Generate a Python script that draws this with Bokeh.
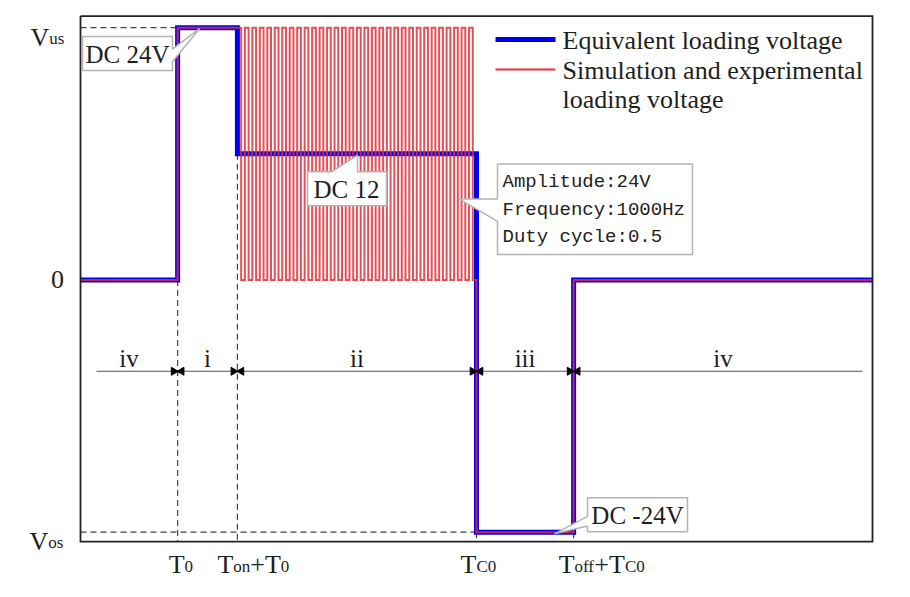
import math
from bokeh.plotting import figure
from bokeh.models import Label, Range1d
from bokeh.embed import file_html
from bokeh.resources import INLINE

# ---------------- data ----------------
t_start, t_end = 0.0, 106.0          # time axis (ms)
T0 = 13.0
Ton_T0 = 21.0
TC0 = 53.0
Toff_TC0 = 66.0
V_us = 24.0
V_dc12 = 12.0
V_os = -24.0
pwm_amplitude = 24.0
pwm_period = 1.0      # 1000 Hz -> 1 ms
pwm_duty = 0.5
pwm_cycles = 32

equiv_t = [t_start, T0, T0, Ton_T0, Ton_T0, TC0, TC0, Toff_TC0, Toff_TC0, t_end]
equiv_v = [0, 0, V_us, V_us, V_dc12, V_dc12, V_os, V_os, 0, 0]

x_tick_pos = [T0, Ton_T0, TC0, Toff_TC0]
region_names = ["iv", "i", "ii", "iii", "iv"]
region_bounds = [t_start, T0, Ton_T0, TC0, Toff_TC0, t_end]

# simulated (PWM) loading voltage
sim_t = [t_start, T0, T0, Ton_T0]
sim_v = [0, 0, V_us, V_us]
for k in range(pwm_cycles):
    th = Ton_T0 + k * pwm_period + pwm_duty * pwm_period
    sim_t += [th, th]
    sim_v += [pwm_amplitude, 0]
    tl = Ton_T0 + (k + 1) * pwm_period
    if k < pwm_cycles - 1:
        sim_t += [tl, tl]
        sim_v += [0, pwm_amplitude]
    else:
        sim_t += [tl]
        sim_v += [0]
sim_t += [TC0, Toff_TC0, Toff_TC0, t_end]
sim_v += [V_os, V_os, 0, 0]

# ---------------- geometry ----------------
W, H = 894, 581            # fits the 910x597 window with 8px page margin
REF_H = 597.0              # layout below is expressed in a 597px-tall design space
FX0, FX1 = 80.0, 872.0     # visible box
FY0, FY1 = 16.0, 556.0
v_box_lo, v_box_hi = -24.9, 25.1
sx = (FX1 - FX0) / (t_end - t_start)
sy = (FY1 - FY0) / (v_box_hi - v_box_lo)

def px2x(px):
    return t_start + (px - FX0) / sx

def px2y(py):
    return v_box_hi - (py - FY0) / sy

# whole canvas is the plotting frame so no text is clipped
p = figure(width=W, height=H, output_backend="svg", toolbar_location=None,
           x_axis_type=None, y_axis_type=None,
           x_range=Range1d(px2x(0), px2x(W)), y_range=Range1d(px2y(REF_H), px2y(0)),
           min_border_left=0, min_border_right=0, min_border_top=0, min_border_bottom=0)
p.grid.visible = False
p.outline_line_color = None
p.background_fill_color = "white"
p.border_fill_color = "white"

SERIF = "Liberation Serif"
TXT = "#1e1e1e"

# dashed guide lines
dash_kw = dict(line_color="#444444", line_width=1.2, line_dash="6 4")
p.line([t_start, T0], [V_us, V_us], **dash_kw)
p.line([T0, T0], [0, v_box_lo], **dash_kw)
p.line([Ton_T0, Ton_T0], [V_dc12, v_box_lo], **dash_kw)
p.line([t_start, TC0], [V_os, V_os], **dash_kw)
p.line([TC0, TC0], [V_os, v_box_lo], **dash_kw)
p.line([Toff_TC0, Toff_TC0], [V_os, v_box_lo], **dash_kw)

# region arrows line
arrow_y = px2y(381)
p.line([px2x(96), px2x(862)], [arrow_y, arrow_y], line_color="#555555", line_width=1.1)

# main lines
p.line(equiv_t, equiv_v, line_color="#0000ee", line_width=5, line_join="miter")
p.line(sim_t, sim_v, line_color="#e3303a", line_width=2.0, line_alpha=0.85, line_join="miter")

# plot box
p.line([t_start, t_end, t_end, t_start, t_start],
       [v_box_hi, v_box_hi, v_box_lo, v_box_lo, v_box_hi],
       line_color="#222222", line_width=1.8, line_join="miter")

# arrow heads at boundaries
off = 4.0 / sx
ah_x, ah_a = [], []
for b in x_tick_pos:
    ah_x += [b - off, b + off]
    ah_a += [-math.pi / 2, math.pi / 2]
p.scatter(ah_x, [arrow_y] * len(ah_x), marker="triangle", angle=ah_a, size=8,
          fill_color="black", line_color="black")

# region names
for i, nm in enumerate(region_names):
    cx = (region_bounds[i] + region_bounds[i + 1]) / 2
    p.add_layout(Label(x=cx, y=px2y(368), text=nm, text_align="center", text_baseline="middle",
                       text_font=SERIF, text_font_size="25px", text_color=TXT))

# callouts
def callout(poly_px):
    xs = [px2x(a) for a, b in poly_px]
    ys = [px2y(b) for a, b in poly_px]
    p.patch(xs, ys, fill_color="white", line_color="#b4b4b4", line_width=1.5)

callout([(82, 37), (172, 37), (172, 50), (199, 29), (172, 63), (172, 72), (82, 72)])
p.add_layout(Label(x=px2x(127), y=px2y(55), text="DC 24V", text_align="center", text_baseline="middle",
                   text_font=SERIF, text_font_size="25px", text_color=TXT))

callout([(307, 176), (331, 176), (357, 159), (357, 176), (386, 176), (386, 211), (307, 211)])
p.add_layout(Label(x=px2x(346), y=px2y(194), text="DC 12", text_align="center", text_baseline="middle",
                   text_font=SERIF, text_font_size="25px", text_color=TXT))

callout([(497, 168), (692, 168), (692, 261), (497, 261), (497, 227), (459, 204), (497, 204)])
for txt, yy in [("Amplitude:24V", 186), ("Frequency:1000Hz", 215), ("Duty cycle:0.5", 243)]:
    p.add_layout(Label(x=px2x(502), y=px2y(yy), text=txt, text_align="left", text_baseline="middle",
                       text_font="Liberation Mono", text_font_size="19px", text_color=TXT))

callout([(587, 511), (687, 511), (687, 546), (587, 546), (587, 540), (554, 548), (587, 530)])
p.add_layout(Label(x=px2x(637), y=px2y(529), text="DC -24V", text_align="center", text_baseline="middle",
                   text_font=SERIF, text_font_size="25px", text_color=TXT))

# legend (manual)
p.line([px2x(495), px2x(555)], [px2y(40), px2y(40)], line_color="#0000ee", line_width=5)
p.line([px2x(495), px2x(555)], [px2y(71), px2y(71)], line_color="#e3303a", line_width=2)
for txt, yy in [("Equivalent loading voltage", 41), ("Simulation and experimental", 72),
                ("loading voltage", 102)]:
    p.add_layout(Label(x=px2x(562), y=px2y(yy), text=txt, text_align="left", text_baseline="middle",
                       text_font=SERIF, text_font_size="26px", text_color=TXT))

# sub-scripted labels
CW = {"T": .611, "o": .5, "n": .5, "f": .333, "+": .564, "C": .667, "0": .5,
      "V": .722, "u": .5, "s": .389}

def sub_label(start_px, base_py, runs):
    cur = start_px
    for txt, size, dy in runs:
        p.add_layout(Label(x=px2x(cur), y=px2y(base_py + dy), text=txt, text_align="left",
                           text_baseline="alphabetic", text_font=SERIF,
                           text_font_size=f"{size}px", text_color=TXT))
        cur += sum(CW.get(c, .5) for c in txt) * size

MAIN, SUB = 26, 17
tick_runs = [
    (-9, [("T", MAIN, 0), ("0", SUB, 2)]),
    (-20, [("T", MAIN, 0), ("on", SUB, 2), ("+T", MAIN, 0), ("0", SUB, 2)]),
    (-16, [("T", MAIN, 0), ("C0", SUB, 2)]),
    (-15, [("T", MAIN, 0), ("off", SUB, 2), ("+T", MAIN, 0), ("C0", SUB, 2)]),
]
for tx, (dx, runs) in zip(x_tick_pos, tick_runs):
    sub_label(FX0 + (tx - t_start) * sx + dx, 580, runs)

sub_label(30, 38, [("V", MAIN, 0), ("us", SUB, 1)])
sub_label(29, 556, [("V", MAIN, 0), ("os", SUB, 1)])
p.add_layout(Label(x=px2x(57), y=0, text="0", text_align="center", text_baseline="middle",
                   text_font=SERIF, text_font_size="26px", text_color=TXT))

open("out.html", "w").write(file_html(p, INLINE))
